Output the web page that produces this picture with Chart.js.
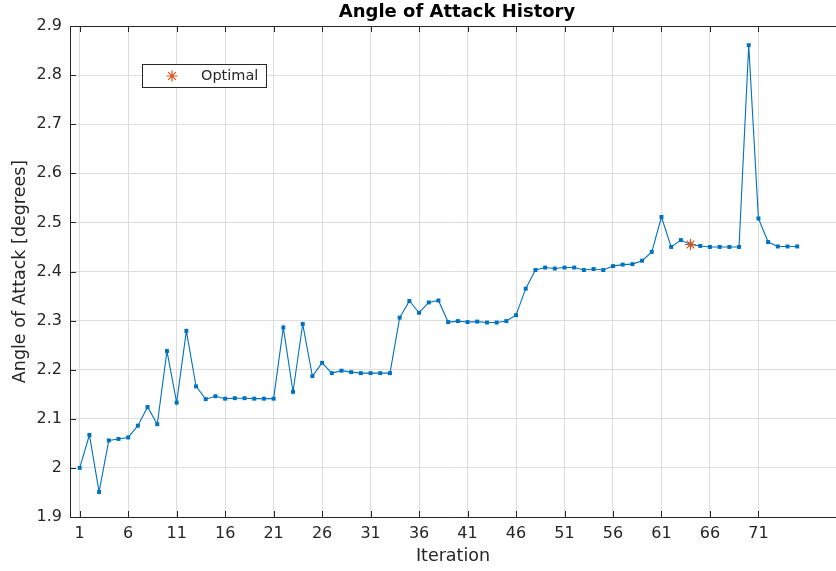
<!DOCTYPE html>
<html lang="en">
<head>
    <meta charset="utf-8" />
    <title>Angle of Attack History</title>
    <script src="https://cdn.jsdelivr.net/npm/chart.js"></script>
    <style>
        body { margin: 0; background: #ffffff; }
        #wrap { width: 836px; height: 571px; }
    </style>
</head>
<body>
<div id="wrap">
    <canvas id="grafico_aoa" width="836" height="571"></canvas>
</div>
<script>
    // valores (iteração 1..75)
    const angulos = [
        2.000, 2.067, 1.951, 2.056, 2.059, 2.062, 2.086, 2.124, 2.089, 2.238,
        2.133, 2.279, 2.166, 2.140, 2.146, 2.141, 2.142, 2.142, 2.141, 2.141,
        2.141, 2.286, 2.155, 2.293, 2.187, 2.214, 2.193, 2.198, 2.195, 2.193,
        2.193, 2.193, 2.193, 2.306, 2.340, 2.316, 2.337, 2.341, 2.297, 2.299,
        2.297, 2.298, 2.296, 2.296, 2.299, 2.311, 2.365, 2.403, 2.408, 2.406,
        2.408, 2.408, 2.403, 2.405, 2.403, 2.411, 2.414, 2.415, 2.422, 2.440,
        2.511, 2.450, 2.464, 2.455, 2.452, 2.450, 2.450, 2.450, 2.450, 2.861,
        2.508, 2.460, 2.451, 2.451, 2.451
    ];
    const iteracoes = angulos.map((_, i) => i + 1);
    const otimoIteracao = [64];
    const otimoAngulo = [2.455];
    const ticksX = [1, 6, 11, 16, 21, 26, 31, 36, 41, 46, 51, 56, 61, 66, 71];
    const ticksY = [1.9, 2.0, 2.1, 2.2, 2.3, 2.4, 2.5, 2.6, 2.7, 2.8, 2.9];

    const corEixo = "#262626";
    const fonte = "DejaVu Sans";

    // caixa do eixo, marcas internas, título e legenda (estilo MATLAB)
    const pluginEixos = {
        id: "eixosMatlab",
        afterDraw(chart) {
            const { ctx, chartArea, scales } = chart;
            const { left, right, top, bottom } = chartArea;
            ctx.save();
            ctx.strokeStyle = corEixo;
            ctx.lineWidth = 1;
            ctx.beginPath();
            ctx.moveTo(left, top + 0.5);
            ctx.lineTo(right, top + 0.5);
            ticksX.forEach((v) => {
                const x = Math.round(scales.x.getPixelForValue(v)) + 0.5;
                ctx.moveTo(x, bottom);
                ctx.lineTo(x, bottom - 6);
                ctx.moveTo(x, top);
                ctx.lineTo(x, top + 6);
            });
            ticksY.forEach((v) => {
                const y = Math.round(scales.y.getPixelForValue(v)) + 0.5;
                ctx.moveTo(left, y);
                ctx.lineTo(left + 6, y);
            });
            ctx.stroke();

            // título
            ctx.fillStyle = "#000000";
            ctx.font = `bold 18px "${fonte}"`;
            ctx.textAlign = "center";
            ctx.textBaseline = "middle";
            ctx.fillText("Angle of Attack History", 457, 12);

            // legenda
            ctx.fillStyle = "#ffffff";
            ctx.fillRect(142.5, 64.5, 124, 23);
            ctx.strokeStyle = corEixo;
            ctx.strokeRect(142.5, 64.5, 124, 23);
            ctx.strokeStyle = "#D95319";
            ctx.lineWidth = 1.2;
            ctx.beginPath();
            const r = 5.5;
            for (let k = 0; k < 4; k++) {
                const a = k * Math.PI / 4;
                ctx.moveTo(172 - r * Math.cos(a), 76 - r * Math.sin(a));
                ctx.lineTo(172 + r * Math.cos(a), 76 + r * Math.sin(a));
            }
            ctx.stroke();
            ctx.fillStyle = corEixo;
            ctx.font = `14.5px "${fonte}"`;
            ctx.textAlign = "left";
            ctx.fillText("Optimal", 201, 76);
            ctx.restore();
        }
    };

    const ctx = document.getElementById("grafico_aoa").getContext("2d");
    new Chart(ctx, {
        type: "line",
        data: {
            datasets: [
                {
                    label: "Optimal",
                    data: otimoIteracao.map((x, i) => ({ x: x, y: otimoAngulo[i] })),
                    showLine: false,
                    pointStyle: "star",
                    pointRadius: 5.5,
                    borderColor: "#D95319",
                    backgroundColor: "#D95319",
                    pointBorderWidth: 1.2,
                },
                {
                    label: "AoA",
                    data: iteracoes.map((x, i) => ({ x: x, y: angulos[i] })),
                    borderColor: "#0072BD",
                    backgroundColor: "#0072BD",
                    borderWidth: 1.1,
                    pointStyle: "rect",
                    pointRadius: 2.8,
                    pointBorderWidth: 0,
                    tension: 0,
                },
            ],
        },
        options: {
            responsive: false,
            animation: false,
            layout: { autoPadding: false, padding: { top: 26, right: 0, left: 0, bottom: 0 } },
            plugins: {
                legend: { display: false },
                title: { display: false },
                tooltip: { enabled: false },
            },
            scales: {
                x: {
                    type: "linear",
                    min: 0,
                    max: 79,
                    afterBuildTicks: (scale) => {
                        scale.ticks = ticksX.map((v) => ({ value: v }));
                    },
                    afterFit: (scale) => { scale.height = 54; },
                    ticks: {
                        color: corEixo,
                        padding: 7,
                        maxRotation: 0,
                        autoSkip: false,
                        font: { family: fonte, size: 16 },
                    },
                    grid: { color: "#dedede", drawTicks: false },
                    border: { display: true, color: corEixo, width: 1 },
                    title: {
                        display: true,
                        text: "Iteration",
                        color: corEixo,
                        font: { family: fonte, size: 17.5 },
                        padding: { top: 0, bottom: 4 },
                    },
                },
                y: {
                    min: 1.9,
                    max: 2.9,
                    afterBuildTicks: (scale) => {
                        scale.ticks = ticksY.map((v) => ({ value: v }));
                    },
                    afterFit: (scale) => { scale.width = 70; },
                    ticks: {
                        color: corEixo,
                        padding: 8,
                        font: { family: fonte, size: 16 },
                        callback: (v) => String(Math.round(v * 10) / 10),
                    },
                    grid: { color: "#dedede", drawTicks: false },
                    border: { display: true, color: corEixo, width: 1 },
                    title: {
                        display: true,
                        text: "Angle of Attack [degrees]",
                        color: corEixo,
                        font: { family: fonte, size: 17.5 },
                        padding: { top: 10, bottom: 0 },
                    },
                },
            },
        },
        plugins: [pluginEixos],
    });
</script>
</body>
</html>
